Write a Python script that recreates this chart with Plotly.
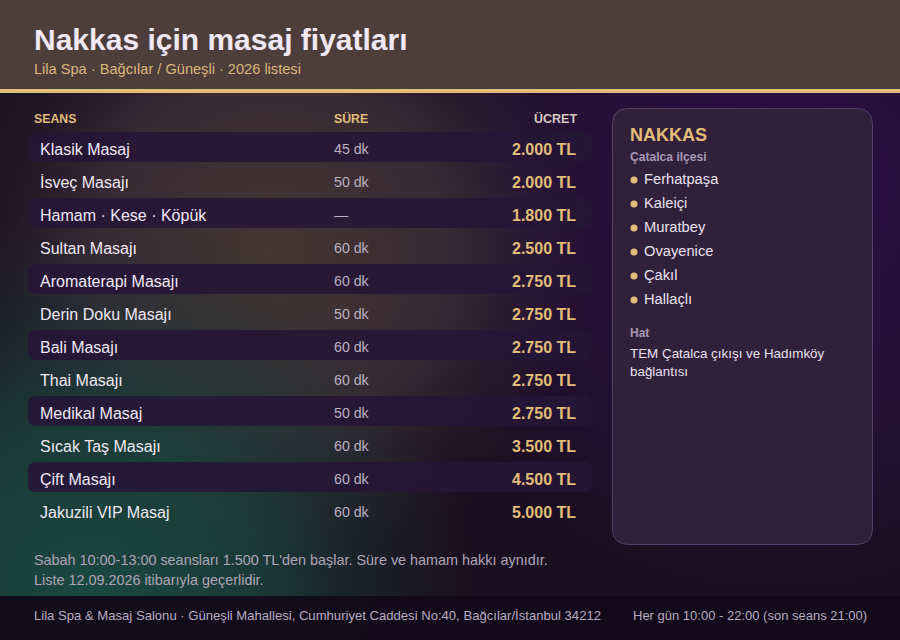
import base64
import plotly.graph_objects as go

FONT = "Liberation Sans"
GOLD = "#e3bd7a"

# %% data
title = "Nakkas için masaj fiyatları"
subtitle = "Lila Spa · Bağcılar / Güneşli · 2026 listesi"
headers = ["SEANS", "SÜRE", "ÜCRET"]
sessions = ["Klasik Masaj", "İsveç Masajı", "Hamam · Kese · Köpük", "Sultan Masajı",
            "Aromaterapi Masajı", "Derin Doku Masajı", "Bali Masajı", "Thai Masajı",
            "Medikal Masaj", "Sıcak Taş Masajı", "Çift Masajı", "Jakuzili VIP Masaj"]
durations = ["45 dk", "50 dk", "—", "60 dk", "60 dk", "50 dk",
             "60 dk", "60 dk", "50 dk", "60 dk", "60 dk", "60 dk"]
prices = ["2.000 TL", "2.000 TL", "1.800 TL", "2.500 TL", "2.750 TL", "2.750 TL",
          "2.750 TL", "2.750 TL", "2.750 TL", "3.500 TL", "4.500 TL", "5.000 TL"]
panel_title = "NAKKAS"
panel_sub = "Çatalca ilçesi"
places = ["Ferhatpaşa", "Kaleiçi", "Muratbey", "Ovayenice", "Çakıl", "Hallaçlı"]
line_title = "Hat"
line_text = ["TEM Çatalca çıkışı ve Hadımköy", "bağlantısı"]
notes = ["Sabah 10:00-13:00 seansları 1.500 TL'den başlar. Süre ve hamam hakkı aynıdır.",
         "Liste 12.09.2026 itibarıyla geçerlidir."]
footer_left = "Lila Spa & Masaj Salonu · Güneşli Mahallesi, Cumhuriyet Caddesi No:40, Bağcılar/İstanbul 34212"
footer_right = "Her gün 10:00 - 22:00 (son seans 21:00)"

# %% page background as an svg gradient stack
bg_svg = """<svg xmlns="http://www.w3.org/2000/svg" width="900" height="640">
<defs>
<radialGradient id="p" gradientUnits="userSpaceOnUse" cx="780" cy="190" r="400">
<stop offset="0" stop-color="#2c0f46"/><stop offset="0.55" stop-color="#2a1040" stop-opacity="0.7"/>
<stop offset="1" stop-color="#2a1040" stop-opacity="0"/></radialGradient>
<radialGradient id="g" gradientUnits="userSpaceOnUse" cx="90" cy="590" r="380">
<stop offset="0" stop-color="#1a483f"/><stop offset="0.45" stop-color="#1a443b" stop-opacity="0.8"/>
<stop offset="0.75" stop-color="#1a3a36" stop-opacity="0.35"/>
<stop offset="1" stop-color="#1a3a36" stop-opacity="0"/></radialGradient>
<radialGradient id="b" gradientUnits="userSpaceOnUse" cx="270" cy="250" r="320">
<stop offset="0" stop-color="#463632"/><stop offset="0.55" stop-color="#413238" stop-opacity="0.75"/>
<stop offset="0.8" stop-color="#3a2c38" stop-opacity="0.3"/>
<stop offset="1" stop-color="#3a2c38" stop-opacity="0"/></radialGradient>
</defs>
<rect width="900" height="640" fill="#1a0f20"/>
<rect width="900" height="640" fill="url(#p)"/>
<rect width="900" height="640" fill="url(#b)"/>
<rect width="900" height="640" fill="url(#g)"/>
</svg>"""
bg_uri = "data:image/svg+xml;base64," + base64.b64encode(bg_svg.encode()).decode()


def rounded(x0, y0, x1, y1, r):
    return (f"M{x0+r},{y0} L{x1-r},{y0} Q{x1},{y0} {x1},{y0+r} L{x1},{y1-r} Q{x1},{y1} {x1-r},{y1} "
            f"L{x0+r},{y1} Q{x0},{y1} {x0},{y1-r} L{x0},{y0+r} Q{x0},{y0} {x0+r},{y0} Z")


def label(x, y, text, size, color, bold=False, anchor="left"):
    fig.add_annotation(x=x, y=y, text=text, xref="x", yref="y", showarrow=False,
                       xanchor=anchor, yanchor="middle", borderpad=0, borderwidth=0,
                       font=dict(family=FONT, size=size, color=color,
                                 weight=700 if bold else 400))


fig = go.Figure()
shapes = [
    dict(type="rect", x0=0, x1=900, y0=0, y1=89, fillcolor="#4d3d3b", line_width=0, layer="below"),
    dict(type="rect", x0=0, x1=900, y0=89, y1=93, fillcolor=GOLD, line_width=0, layer="below"),
    dict(type="rect", x0=0, x1=900, y0=596, y1=640, fillcolor="rgba(18,10,26,0.94)", line_width=0, layer="below"),
    dict(type="path", path=rounded(612.5, 108.5, 872.5, 544.5, 16), layer="below",
         fillcolor="#312039", line=dict(color="#54406a", width=1)),
]
row_y = [149 + 33 * i for i in range(len(sessions))]
for i, y in enumerate(row_y):
    if i % 2 == 0:
        shapes.append(dict(type="path", path=rounded(28, y - 17, 592, y + 13, 8), layer="below",
                           fillcolor="rgba(38,22,54,0.88)", line_width=0))

label(34, 39.5, title, 30, "#f1e8f5", bold=True)
label(34, 69, subtitle, 14.6, "#d9b878")
label(34, 118.5, headers[0], 12.3, GOLD, bold=True)
label(334, 118.5, headers[1], 12.3, GOLD, bold=True)
label(577, 118.5, headers[2], 12.5, "#d6c8c0", bold=True, anchor="right")

for y, s, d, p in zip(row_y, sessions, durations, prices):
    label(40, y, s, 16, "#f0e8f4")
    label(334, y, d, 14.2, "#bcb0c0")
    label(576, y, p, 16, GOLD, bold=True, anchor="right")

label(630, 135, panel_title, 18, GOLD, bold=True)
label(630, 157, panel_sub, 12.1, "#a898b4", bold=True)
place_y = [179 + 24 * i for i in range(len(places))]
for y, p in zip(place_y, places):
    label(644, y, p, 14.7, "#e8e0f0")
fig.add_trace(go.Scatter(x=[634] * len(places), y=[y + 1 for y in place_y], mode="markers",
                         marker=dict(size=7, color=GOLD), hoverinfo="skip"))
label(630, 332.5, line_title, 12, "#a898b4", bold=True)
label(630, 353, line_text[0], 13.4, "#e8e0f0")
label(630, 371, line_text[1], 13.4, "#e8e0f0")

label(34, 560, notes[0], 14.4, "#b0a4b8")
label(34, 580, notes[1], 14.4, "#b0a4b8")
label(34, 615, footer_left, 13.1, "#b8acc0")
label(867, 615, footer_right, 13, "#b8acc0", anchor="right")

fig.update_layout(
    width=900, height=640, margin=dict(l=0, r=0, t=0, b=0), showlegend=False,
    paper_bgcolor="#1a0f20", plot_bgcolor="rgba(0,0,0,0)", shapes=shapes,
    images=[dict(source=bg_uri, xref="paper", yref="paper", x=0, y=1, sizex=1, sizey=1,
                 sizing="stretch", xanchor="left", yanchor="top", layer="below")],
    xaxis=dict(range=[0, 900], visible=False, fixedrange=True),
    yaxis=dict(range=[640, 0], visible=False, fixedrange=True),
)
# default page margin would shift the whole figure by 8px
fig.write_html("out.html", config=dict(displayModeBar=False),
               post_script="document.body.style.margin='0';")
